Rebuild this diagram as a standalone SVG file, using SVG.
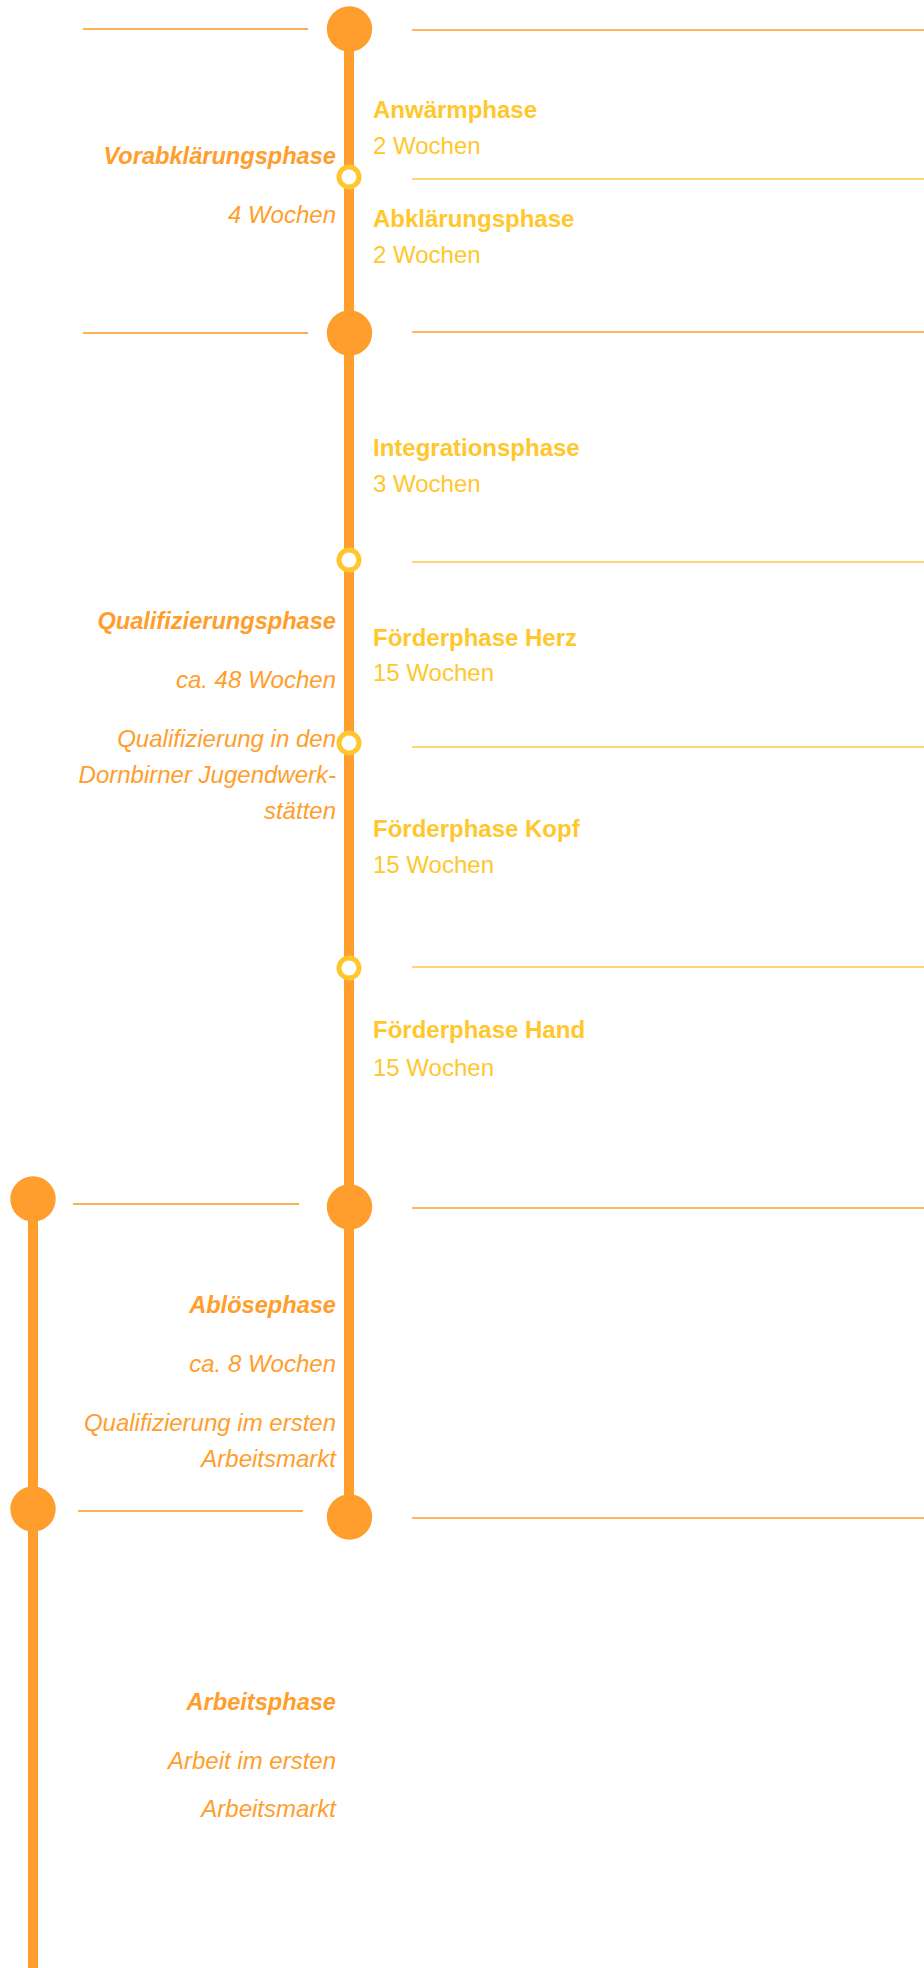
<svg xmlns="http://www.w3.org/2000/svg" width="924" height="1968" viewBox="0 0 924 1968">
<style>
text { font-family: "Liberation Sans", Arial, sans-serif; font-size: 24px; }
.l { fill: #FF9E2C; font-style: italic; text-anchor: end; }
.lb { font-weight: bold; font-size: 23.6px; }
.r { fill: #FFC72C; }
.rb { font-weight: bold; }
.big { fill: #FF9E2C; }
.ring { fill: #FFFFFF; stroke: #FFC62E; stroke-width: 5; }
.hl { stroke: #FFB04F; stroke-width: 2; }
.hr { stroke: #FF9E2C; stroke-width: 1.6; }
.hy { stroke: #FFC93A; stroke-width: 1.6; }
.bar { fill: #FF9E2C; }
</style>
<rect width="924" height="1968" fill="#FFFFFF"/>
<g id="connectors">
<rect class="bar" x="344" y="29" width="10" height="1488"/>
<rect class="bar" x="28" y="1199" width="10" height="769"/>
<line class="hl" x1="83" y1="29" x2="308" y2="29"/>
<line class="hr" x1="412" y1="30" x2="924" y2="30"/>
<line class="hy" x1="412" y1="179" x2="924" y2="179"/>
<line class="hl" x1="83" y1="333" x2="308" y2="333"/>
<line class="hr" x1="412" y1="332" x2="924" y2="332"/>
<line class="hy" x1="412" y1="562" x2="924" y2="562"/>
<line class="hy" x1="412" y1="747" x2="924" y2="747"/>
<line class="hy" x1="412" y1="967" x2="924" y2="967"/>
<line class="hl" x1="73" y1="1204" x2="299" y2="1204"/>
<line class="hr" x1="412" y1="1208" x2="924" y2="1208"/>
<line class="hl" x1="78" y1="1511" x2="303" y2="1511"/>
<line class="hr" x1="412" y1="1518" x2="924" y2="1518"/>
</g>
<g id="node-start"><circle class="big" cx="349.5" cy="29" r="22.7"/></g>
<g id="node-ring1"><circle class="ring" cx="349" cy="177" r="10"/></g>
<g id="node-c2"><circle class="big" cx="349.5" cy="333" r="22.7"/></g>
<g id="node-ring2"><circle class="ring" cx="349" cy="560" r="10"/></g>
<g id="node-ring3"><circle class="ring" cx="349" cy="743" r="10"/></g>
<g id="node-ring4"><circle class="ring" cx="349" cy="968" r="10"/></g>
<g id="node-c3"><circle class="big" cx="349.5" cy="1207" r="22.7"/></g>
<g id="node-c4"><circle class="big" cx="349.5" cy="1517" r="22.7"/></g>
<g id="node-left1"><circle class="big" cx="33" cy="1199" r="22.7"/></g>
<g id="node-left2"><circle class="big" cx="33" cy="1509" r="22.7"/></g>
<g id="label-vorabklaerung">
<text class="l lb" x="336" y="164">Vorabklärungsphase</text>
<text class="l" x="336" y="223">4 Wochen</text>
</g>
<g id="label-anwaerm">
<text class="r rb" x="373" y="118">Anwärmphase</text>
<text class="r" x="373" y="154">2 Wochen</text>
</g>
<g id="label-abklaerung">
<text class="r rb" x="373" y="227">Abklärungsphase</text>
<text class="r" x="373" y="263">2 Wochen</text>
</g>
<g id="label-integration">
<text class="r rb" x="373" y="456">Integrationsphase</text>
<text class="r" x="373" y="492">3 Wochen</text>
</g>
<g id="label-qualifizierung">
<text class="l lb" x="336" y="629">Qualifizierungsphase</text>
<text class="l" x="336" y="688">ca. 48 Wochen</text>
<text class="l" x="336" y="747">Qualifizierung in den</text>
<text class="l" x="336" y="783">Dornbirner Jugendwerk-</text>
<text class="l" x="336" y="819">stätten</text>
</g>
<g id="label-herz">
<text class="r rb" x="373" y="646">Förderphase Herz</text>
<text class="r" x="373" y="681">15 Wochen</text>
</g>
<g id="label-kopf">
<text class="r rb" x="373" y="837">Förderphase Kopf</text>
<text class="r" x="373" y="873">15 Wochen</text>
</g>
<g id="label-hand">
<text class="r rb" x="373" y="1038">Förderphase Hand</text>
<text class="r" x="373" y="1076">15 Wochen</text>
</g>
<g id="label-abloese">
<text class="l lb" x="336" y="1313">Ablösephase</text>
<text class="l" x="336" y="1372">ca. 8 Wochen</text>
<text class="l" x="336" y="1431">Qualifizierung im ersten</text>
<text class="l" x="336" y="1467">Arbeitsmarkt</text>
</g>
<g id="label-arbeit">
<text class="l lb" x="336" y="1710">Arbeitsphase</text>
<text class="l" x="336" y="1769">Arbeit im ersten</text>
<text class="l" x="336" y="1817">Arbeitsmarkt</text>
</g>
</svg>
